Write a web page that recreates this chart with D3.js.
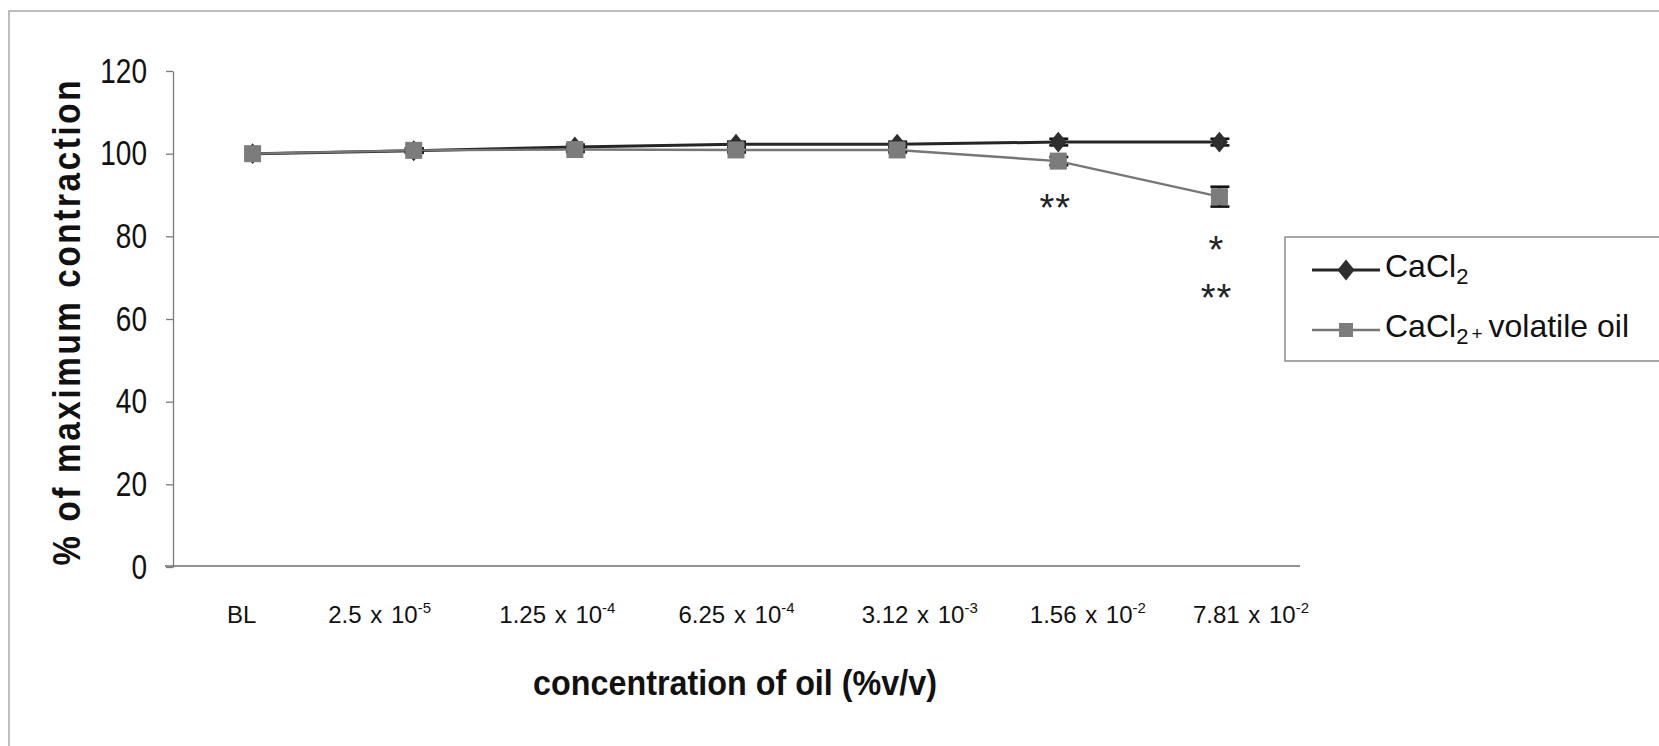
<!DOCTYPE html>
<html>
<head>
<meta charset="utf-8">
<script src="https://cdn.jsdelivr.net/npm/d3@7/dist/d3.min.js"></script>
<style>
  html, body { margin: 0; padding: 0; background: #fff; }
  svg { display: block; font-family: "Liberation Sans", Arial, Helvetica, sans-serif; }
</style>
</head>
<body>
<svg id="chart" width="1659" height="746"></svg>
<script>
// Concentrations of oil (% v/v); BL = baseline
const categories = ["BL", "2.5e-5", "1.25e-4", "6.25e-4", "3.12e-3", "1.56e-2", "7.81e-2"];
const tickBase = ["BL", "2.5 x 10", "1.25 x 10", "6.25 x 10", "3.12 x 10", "1.56 x 10", "7.81 x 10"];
const tickExp = ["", "-5", "-4", "-4", "-3", "-2", "-2"];

// % of maximum contraction (mean and error)
const cacl2 = [100, 100.7, 101.6, 102.3, 102.3, 102.8, 102.8];
const cacl2Err = [0, 0.5, 0.6, 0.6, 0.6, 0.8, 0.8];
const oil = [100, 100.8, 101.0, 100.9, 100.9, 98.2, 89.6];
const oilErr = [0, 0.5, 0.6, 0.6, 0.6, 1.0, 2.4];

const yTicks = [0, 20, 40, 60, 80, 100, 120];

// significance marks under the volatile-oil series
const sigCats = ["1.56e-2", "7.81e-2"];
const sigMarks = [["**"], ["*", "**"]];

const seriesNames = ["CaCl", "CaCl"];

// ---- layout ----
const svg = d3.select("#chart");
const xLeft = 172, xRight = 1300, yTop = 71, yBottom = 567;
const labelShift = [-26, -86, -76, -58, -36, -29, -27];

const x = d3.scalePoint().domain(categories).range([xLeft, xRight]).padding(0.5);
const y = d3.scaleLinear().domain([0, 120]).range([yBottom, yTop]);

// outer frame
svg.append("rect")
  .attr("x", 9).attr("y", 11).attr("width", 1700).attr("height", 800)
  .attr("fill", "none").attr("stroke", "#a8a8a8").attr("stroke-width", 1.5);

// y axis
const yAxis = svg.append("g")
  .attr("transform", `translate(${xLeft + 1},0)`)
  .call(d3.axisLeft(y).tickValues(yTicks).tickSize(7).tickSizeOuter(0).tickPadding(19));
yAxis.select(".domain").attr("stroke", "#7a7a7a").attr("stroke-width", 1.3);
yAxis.selectAll(".tick line").attr("stroke", "#7a7a7a").attr("stroke-width", 1.3);
yAxis.selectAll(".tick text")
  .attr("font-size", 35).attr("fill", "#111")
  .attr("font-family", "'Liberation Sans', Arial, sans-serif")
  .attr("x", -26 / 0.8)
  .attr("transform", "scale(0.8,1)");

// x axis (line only, labels built below)
const xAxis = svg.append("g")
  .attr("transform", `translate(0,${yBottom - 1})`)
  .call(d3.axisBottom(x).tickSize(0).tickSizeOuter(0).tickFormat(() => ""));
xAxis.select(".domain").attr("d", `M${xLeft - 7},0H${xRight}`).attr("stroke", "#6e6e6e").attr("stroke-width", 1.6);

xAxis.selectAll(".tick").each(function (d, i) {
  const t = d3.select(this).select("text")
    .attr("y", 0).attr("dy", null)
    .attr("text-anchor", "start")
    .attr("x", 0)
    .attr("transform", `translate(${labelShift[i]},57)`)
    .attr("font-size", 24).attr("fill", "#111")
    .attr("font-family", "'Liberation Sans', Arial, sans-serif");
  t.text(null);
  tickBase[i].split(" ").forEach((part, j) => {
    const sp = t.append("tspan").text(j ? " " + part : part);
    if (j) sp.attr("dx", 2);
  });
  if (tickExp[i]) {
    t.append("tspan").attr("dy", -10).attr("font-size", 15).text(tickExp[i]);
  }
});

// axis titles
svg.append("text")
  .attr("transform", `translate(80,${(yTop + yBottom) / 2 + 4}) rotate(-90) scale(0.85,1)`)
  .attr("text-anchor", "middle")
  .attr("font-size", 39).attr("font-weight", "bold").attr("fill", "#111")
  .attr("textLength", 485 / 0.85).attr("lengthAdjust", "spacing")
  .text("% of maximum contraction");

svg.append("text")
  .attr("x", 735).attr("y", 695)
  .attr("text-anchor", "middle")
  .attr("font-size", 35).attr("font-weight", "bold").attr("fill", "#111")
  .attr("textLength", 404).attr("lengthAdjust", "spacingAndGlyphs")
  .text("concentration of oil (%v/v)");

// series
const styles = [
  { values: cacl2, err: cacl2Err, line: "#262626", width: 3, fill: "#2e2e2e", shape: "diamond" },
  { values: oil, err: oilErr, line: "#767676", width: 2.4, fill: "#7c7c7c", shape: "square" }
];

const line = d3.line().x((d, i) => x(categories[i])).y(d => y(d));
const diamond = s => `M0,${-s * 0.55}L${s * 0.45},0L0,${s * 0.55}L${-s * 0.45},0Z`;

styles.forEach(st => {
  const g = svg.append("g");
  g.append("path").datum(st.values)
    .attr("d", line).attr("fill", "none")
    .attr("stroke", st.line).attr("stroke-width", st.width);

  // error bars
  st.values.forEach((v, i) => {
    if (!st.err[i]) return;
    const cx = x(categories[i]);
    const y1 = y(v + st.err[i]), y2 = y(v - st.err[i]);
    const eb = g.append("g").attr("stroke", "#111").attr("stroke-width", 2.6);
    eb.append("line").attr("x1", cx).attr("x2", cx).attr("y1", y1).attr("y2", y2);
    eb.append("line").attr("x1", cx - 9).attr("x2", cx + 10).attr("y1", y1).attr("y2", y1);
    eb.append("line").attr("x1", cx - 9).attr("x2", cx + 10).attr("y1", y2).attr("y2", y2);
  });

  // markers
  st.values.forEach((v, i) => {
    const cx = x(categories[i]), cy = y(v);
    if (st.shape === "diamond") {
      g.append("path").attr("d", diamond(19))
        .attr("transform", `translate(${cx},${cy})`)
        .attr("fill", st.fill);
    } else {
      g.append("rect").attr("x", cx - 8.5).attr("y", cy - 8.5)
        .attr("width", 17).attr("height", 17)
        .attr("fill", st.fill);
    }
  });
});

// significance marks
sigCats.forEach((c, k) => {
  const i = categories.indexOf(c);
  const base = y(oil[i] - oilErr[i]);
  sigMarks[k].forEach((m, j) => {
    svg.append("text")
      .attr("x", x(c) - 3).attr("y", base + 34 + j * 48 + 22)
      .attr("text-anchor", "middle")
      .attr("font-size", 38).attr("fill", "#222")
      .attr("letter-spacing", 1)
      .text(m);
  });
});

// legend
const lg = svg.append("g");
lg.append("rect").attr("x", 1285).attr("y", 237).attr("width", 420).attr("height", 124)
  .attr("fill", "#fff").attr("stroke", "#8a8a8a").attr("stroke-width", 1.5);

const legendRows = [270, 330];
styles.forEach((st, k) => {
  const ly = legendRows[k];
  lg.append("line").attr("x1", 1312).attr("x2", 1380).attr("y1", ly).attr("y2", ly)
    .attr("stroke", st.line).attr("stroke-width", st.width);
  if (st.shape === "diamond") {
    lg.append("path").attr("d", diamond(19)).attr("transform", `translate(1346,${ly})`).attr("fill", st.fill);
  } else {
    lg.append("rect").attr("x", 1339).attr("y", ly - 7).attr("width", 14).attr("height", 14).attr("fill", st.fill);
  }
  const t = lg.append("text").attr("x", 1385).attr("y", ly + 7)
    .attr("font-size", 32).attr("fill", "#111");
  t.append("tspan").text(seriesNames[k]);
  t.append("tspan").attr("font-size", 22).attr("dy", 7).text("2");
  if (k === 1) {
    t.append("tspan").attr("font-size", 19).attr("dy", -4).attr("dx", 3).text("+");
    t.append("tspan").attr("font-size", 32).attr("dy", -3).attr("dx", 6).text("volatile oil");
  }
});
</script>
</body>
</html>
